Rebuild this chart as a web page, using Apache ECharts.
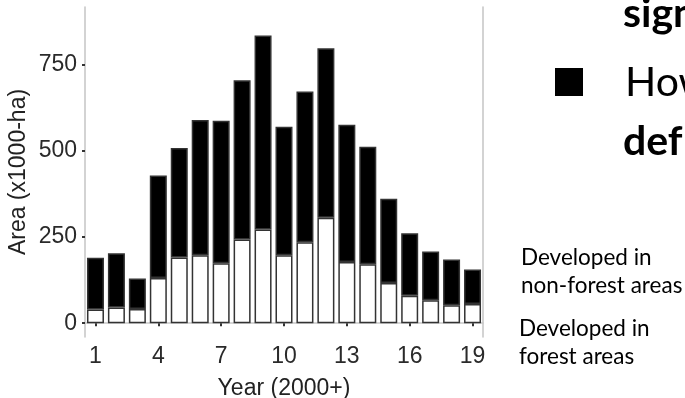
<!DOCTYPE html>
<html>
<head>
<meta charset="utf-8">
<script src="https://cdn.jsdelivr.net/npm/echarts@6/dist/echarts.min.js"></script>
<style>
html,body{margin:0;padding:0;background:#fff;}
#chart{width:685px;height:398px;}
</style>
</head>
<body>
<div id="chart"></div>
<script>
const years = ['1','2','3','4','5','6','7','8','9','10','11','12','13','14','15','16','17','18','19'];
const forestAreas = [40,46,41,131,191,197,174,243,272,197,235,306,178,171,117,80,67,52,56];
const nonForestAreas = [150,157,89,298,318,393,414,462,563,373,438,492,398,341,244,181,141,133,100];
const yTicks = [0,250,500,750];

const chart = echarts.init(document.getElementById('chart'), null, {renderer:'canvas'});
const axisFont = 'Liberation Sans';
const slideFont = 'Lato';
chart.setOption({
  animation:false,
  backgroundColor:'#fff',
  grid:{left:85, right:202, top:7, bottom:61, show:false, containLabel:false, outerBoundsMode:'none'},
  xAxis:{
    type:'category', data:years,
    axisLine:{show:true, lineStyle:{color:'#c8c8c8', width:1.6}},
    axisTick:{show:true, interval:2, alignWithLabel:true, length:3, lineStyle:{color:'#333', width:2}},
    axisLabel:{interval:2, margin:8, fontFamily:axisFont, fontSize:23, color:'#2a2a2a'},
    name:'Year (2000+)', nameLocation:'middle', nameGap:40,
    nameTextStyle:{fontFamily:axisFont, fontSize:23, color:'#222'}
  },
  yAxis:[{
    type:'value', min:-40, max:918,
    splitLine:{show:false},
    axisLine:{show:true, lineStyle:{color:'#c8c8c8', width:1.6}},
    axisTick:{show:true, customValues:yTicks, length:3, lineStyle:{color:'#333', width:2}},
    axisLabel:{customValues:yTicks, margin:8, fontFamily:axisFont, fontSize:23, color:'#2a2a2a'},
    name:'Area (x1000-ha)', nameLocation:'middle', nameRotate:90, nameGap:55, nameMoveOverlap:false,
    nameTextStyle:{fontFamily:axisFont, fontSize:23, color:'#222'}
  },{
    type:'value', min:-40, max:918, position:'right',
    splitLine:{show:false},
    axisLine:{show:true, lineStyle:{color:'#c8c8c8', width:1.6}},
    axisTick:{show:false}, axisLabel:{show:false}
  }],
  series:[
    {name:'Developed in forest areas', type:'bar', stack:'total', data:forestAreas, barWidth:17,
     itemStyle:{color:'#ffffff', borderColor:'#333', borderWidth:1.5}},
    {name:'Developed in non-forest areas', type:'bar', stack:'total', data:nonForestAreas, barWidth:17,
     itemStyle:{color:'#000000', borderColor:'#333', borderWidth:1.5}}
  ],
  graphic:[
    {type:'text', left:623, top:-7, style:{text:'sign', font:'bold 41px '+slideFont, fill:'#000'}},
    {type:'rect', shape:{x:555, y:68, width:28, height:28}, style:{fill:'#000'}},
    {type:'text', left:625, top:62, style:{text:'How', font:'41px '+slideFont, fill:'#000'}},
    {type:'text', left:623, top:121, style:{text:'def', font:'bold 41px '+slideFont, fill:'#000'}},
    {type:'text', left:521, top:244, style:{text:'Developed in\nnon-forest areas', font:'22.5px '+slideFont, lineHeight:28, fill:'#000'}},
    {type:'text', left:519, top:315, style:{text:'Developed in\nforest areas', font:'22.5px '+slideFont, lineHeight:28, fill:'#000'}}
  ]
});
</script>
</body>
</html>
